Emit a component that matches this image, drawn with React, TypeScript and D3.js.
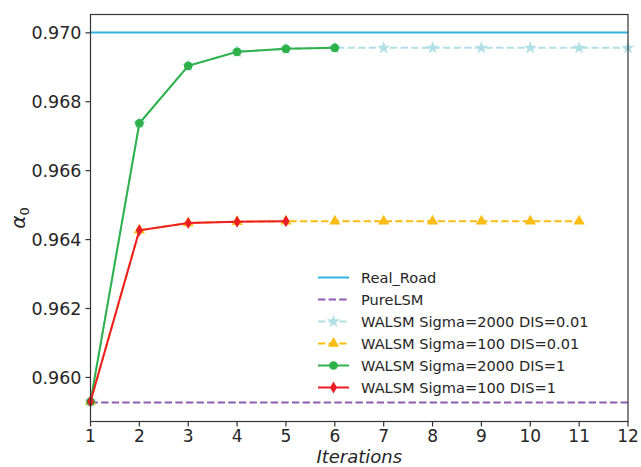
import React from 'react';
import * as d3 from 'd3';

const iterations = [1, 2, 3, 4, 5, 6, 7, 8, 9, 10, 11, 12];
const realRoad = 0.97001;
const pureLSM = 0.959275;
const sigma2000Dis001 = [0.9593, 0.967375, 0.969042, 0.969448, 0.969535, 0.969564, 0.969564, 0.969564, 0.969564, 0.969564, 0.969564, 0.969564];
const sigma100Dis001 = [0.9593, 0.964269, 0.964483, 0.964521, 0.96453, 0.96453, 0.96453, 0.96453, 0.96453, 0.96453, 0.96453];
const sigma2000Dis1 = [0.9593, 0.967375, 0.969042, 0.969448, 0.969535, 0.969564];
const sigma100Dis1 = [0.9593, 0.964269, 0.964483, 0.964521, 0.96453];
const yTicks = [0.96, 0.962, 0.964, 0.966, 0.968, 0.97];
const legendLabels = [
  'Real_Road',
  'PureLSM',
  'WALSM Sigma=2000 DIS=0.01',
  'WALSM Sigma=100 DIS=0.01',
  'WALSM Sigma=2000 DIS=1',
  'WALSM Sigma=100 DIS=1',
];

const W = 641;
const H = 467;
const left = 90.5;
const right = 628;
const top = 14.5;
const bottom = 421.5;
const font = 'DejaVu Sans, sans-serif';
const ink = '#262626';

const colors = {
  real: '#33b4e6',
  pure: '#8e5bb5',
  cyan: '#b0e0e6',
  yellow: '#fbbc14',
  green: '#2eb14a',
  red: '#ec1c24',
};

const x = d3.scaleLinear().domain([1, 12]).range([left, right]);
const y = d3.scaleLinear().domain([0.958722, 0.970531]).range([bottom, top]);

const line = d3
  .line<number>()
  .x((_, i) => x(iterations[i]))
  .y((d) => y(d));

const star = d3.symbol().type(d3.symbolStar).size(55)() as string;
const tri = d3.symbol().type(d3.symbolTriangle).size(55)() as string;
const circ = d3.symbol().type(d3.symbolCircle).size(60)() as string;
const diamond = 'M0,-6L3.5,0L0,6L-3.5,0Z';

const Marker = ({ kind, color, cx, cy }) => {
  const d = kind === 'star' ? star : kind === 'tri' ? tri : kind === 'circle' ? circ : diamond;
  return <path d={d} fill={color} transform={`translate(${cx},${cy})`} />;
};

const Series = ({ data, color, dash, kind }) => (
  <g>
    <path d={line(data) as string} fill="none" stroke={color} strokeWidth={2} strokeDasharray={dash} />
    {data.map((v, i) => (
      <Marker key={i} kind={kind} color={color} cx={x(iterations[i])} cy={y(v)} />
    ))}
  </g>
);

export default function App() {
  const legendItems = [
    { color: colors.real, dash: undefined, kind: null },
    { color: colors.pure, dash: '7.4,3.2', kind: null },
    { color: colors.cyan, dash: '7.4,3.2', kind: 'star' },
    { color: colors.yellow, dash: '7.4,3.2', kind: 'tri' },
    { color: colors.green, dash: undefined, kind: 'circle' },
    { color: colors.red, dash: undefined, kind: 'diamond' },
  ];
  return (
    <svg width={W} height={H} style={{ position: 'absolute', left: 0, top: 0 }}>
      <rect width={W} height={H} fill="white" />
      {/* horizontal reference lines */}
      <line x1={left} x2={right} y1={y(realRoad)} y2={y(realRoad)} stroke={colors.real} strokeWidth={2} />
      <line x1={left} x2={right} y1={y(pureLSM)} y2={y(pureLSM)} stroke={colors.pure} strokeWidth={2} strokeDasharray="7.4,3.2" />
      <Series data={sigma2000Dis001} color={colors.cyan} dash="7.4,3.2" kind="star" />
      <Series data={sigma100Dis001} color={colors.yellow} dash="7.4,3.2" kind="tri" />
      <Series data={sigma2000Dis1} color={colors.green} dash={undefined} kind="circle" />
      <Series data={sigma100Dis1} color={colors.red} dash={undefined} kind="diamond" />

      {/* frame */}
      <rect x={left} y={top} width={right - left} height={bottom - top} fill="none" stroke="#333" strokeWidth={1.2} />

      {/* x ticks */}
      {iterations.map((t) => (
        <g key={t} transform={`translate(${x(t)},${bottom})`}>
          <line y2={5} stroke="#333" strokeWidth={1.2} />
          <text y={20.5} textAnchor="middle" fontFamily={font} fontSize={17} fill={ink}>
            {t}
          </text>
        </g>
      ))}
      {/* y ticks */}
      {yTicks.map((t) => (
        <g key={t} transform={`translate(${left},${y(t)})`}>
          <line x2={-5} stroke="#333" strokeWidth={1.2} />
          <text x={-9} dy="0.35em" textAnchor="end" fontFamily={font} fontSize={17.5} fill={ink}>
            {d3.format('.3f')(t)}
          </text>
        </g>
      ))}

      <text x={(left + right) / 2} y={462.5} textAnchor="middle" fontFamily={font} fontSize={18} fontStyle="italic" fill={ink}>
        Iterations
      </text>
      <text transform={`translate(25,${(top + bottom) / 2}) rotate(-90)`} textAnchor="middle" fontFamily={font} fontSize={20} fontStyle="italic" fill={ink}>
        α<tspan fontSize={13} dy={4} fontStyle="normal">0</tspan>
      </text>

      {/* legend */}
      {legendItems.map((item, i) => {
        const ly = 277.5 + i * 22;
        return (
          <g key={i}>
            <line x1={318} x2={349} y1={ly} y2={ly} stroke={item.color} strokeWidth={2} strokeDasharray={item.dash} />
            {item.kind && <Marker kind={item.kind} color={item.color} cx={333.5} cy={ly} />}
            <text x={361} y={ly} dy="0.35em" fontFamily={font} fontSize={14.6} fill={ink}>
              {legendLabels[i]}
            </text>
          </g>
        );
      })}
    </svg>
  );
}
